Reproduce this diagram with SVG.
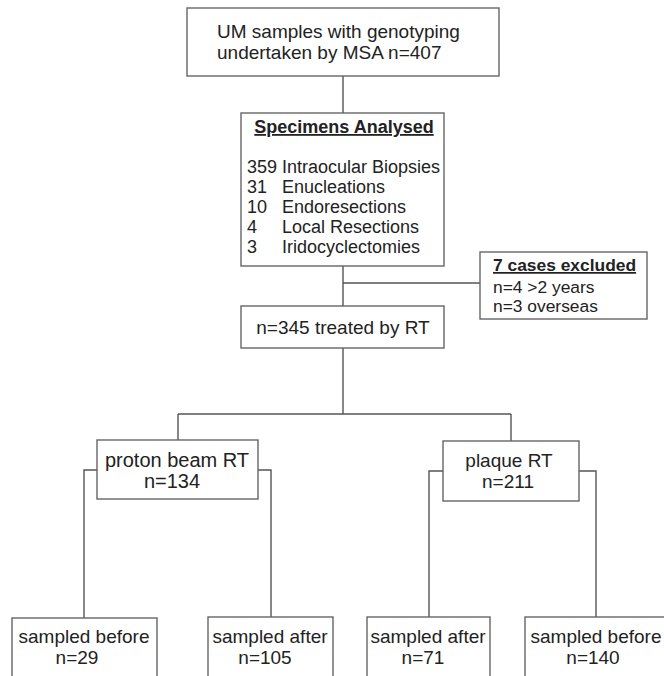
<svg xmlns="http://www.w3.org/2000/svg" width="664" height="676" viewBox="0 0 664 676">
<style>
.box{fill:#fff;stroke:#666;stroke-width:1.4}
.t{font-family:"Liberation Sans",Arial,sans-serif;font-size:19px;fill:#222}
.s{font-size:18px}
.b{font-weight:bold;text-decoration:underline}
.c{fill:none;stroke:#555;stroke-width:1.4}
</style>
<rect width="664" height="676" fill="#fff"/>
<g id="connectors" class="c">
<path d="M343 76V113"/>
<path d="M343 266V306"/>
<path d="M343 283H480"/>
<path d="M343 348V414"/>
<path d="M178 414H511"/>
<path d="M178 414V440"/>
<path d="M511 414V441"/>
<path d="M97 470H84V618"/>
<path d="M258 470H271V617"/>
<path d="M443 471H429V617"/>
<path d="M579 471H596V617"/>
</g>
<g id="n_total">
<rect class="box" x="187" y="8" width="312" height="68"/>
<text class="t" x="217" y="38">UM samples with genotyping</text>
<text class="t" x="217" y="59">undertaken by MSA n=407</text>
</g>
<g id="n_specimens">
<rect class="box" x="241" y="113" width="203" height="153"/>
<text class="t s b" x="344" y="133" text-anchor="middle">Specimens Analysed</text>
<text class="t s" x="247" y="173">359 Intraocular Biopsies</text>
<text class="t s" x="247" y="193">31</text><text class="t s" x="282" y="193">Enucleations</text>
<text class="t s" x="247" y="213">10</text><text class="t s" x="282" y="213">Endoresections</text>
<text class="t s" x="247" y="233">4</text><text class="t s" x="282" y="233">Local Resections</text>
<text class="t s" x="247" y="253">3</text><text class="t s" x="282" y="253">Iridocyclectomies</text>
</g>
<g id="n_excluded">
<rect class="box" x="480" y="252" width="167" height="67"/>
<text class="t b" x="493" y="271" style="font-size:17.4px">7 cases excluded</text>
<text class="t" x="493" y="293" style="font-size:17.4px">n=4 &gt;2 years</text>
<text class="t" x="493" y="312" style="font-size:17.4px">n=3 overseas</text>
</g>
<g id="n_rt">
<rect class="box" x="241" y="306" width="203" height="42"/>
<text class="t" x="343" y="334" text-anchor="middle">n=345 treated by RT</text>
</g>
<g id="n_proton">
<rect class="box" x="97" y="440" width="161" height="59"/>
<text class="t" x="177" y="467" text-anchor="middle" style="font-size:20px">proton beam RT</text>
<text class="t" x="172" y="488" text-anchor="middle" style="font-size:20px">n=134</text>
</g>
<g id="n_plaque">
<rect class="box" x="443" y="441" width="136" height="60"/>
<text class="t" x="509" y="467" text-anchor="middle">plaque RT</text>
<text class="t" x="508" y="488" text-anchor="middle">n=211</text>
</g>
<g id="n_pb_before">
<rect class="box" x="12" y="618" width="145" height="70"/>
<text class="t" x="84" y="643" text-anchor="middle">sampled before</text>
<text class="t" x="77" y="664" text-anchor="middle">n=29</text>
</g>
<g id="n_pb_after">
<rect class="box" x="208" y="617" width="125" height="70"/>
<text class="t" x="270" y="643" text-anchor="middle">sampled after</text>
<text class="t" x="265" y="664" text-anchor="middle">n=105</text>
</g>
<g id="n_pl_after">
<rect class="box" x="367" y="617" width="123" height="70"/>
<text class="t" x="428" y="643" text-anchor="middle">sampled after</text>
<text class="t" x="423" y="664" text-anchor="middle">n=71</text>
</g>
<g id="n_pl_before">
<rect class="box" x="525" y="617" width="145" height="70"/>
<text class="t" x="596" y="643" text-anchor="middle">sampled before</text>
<text class="t" x="593" y="664" text-anchor="middle">n=140</text>
</g>
</svg>
